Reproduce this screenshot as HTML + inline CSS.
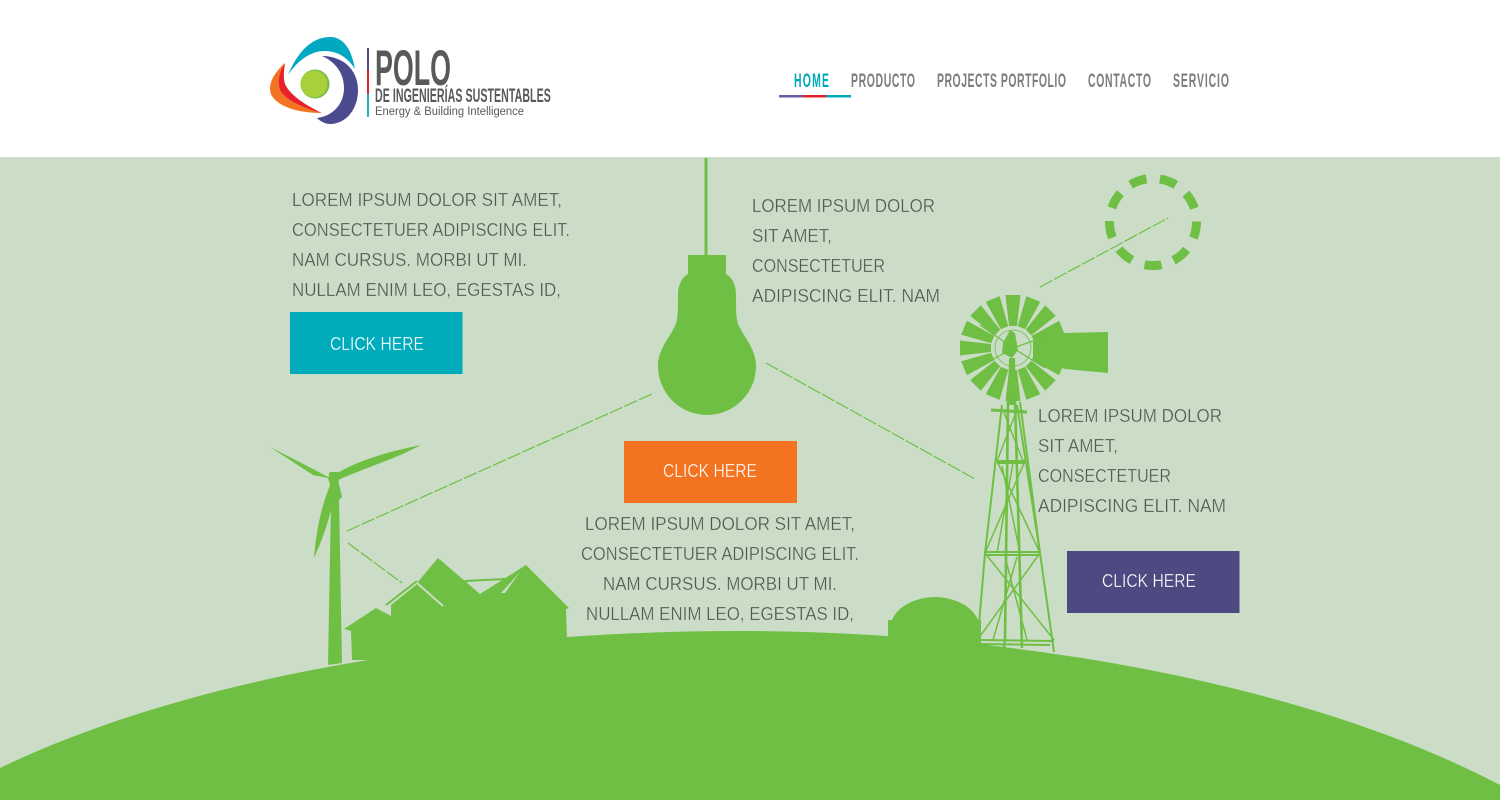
<!DOCTYPE html>
<html><head><meta charset="utf-8"><style>
html,body{margin:0;padding:0;background:#fff}
svg{display:block}
.t text{font-family:"Liberation Sans",sans-serif;font-size:18px;fill:#505854;stroke:#cbddc7;stroke-width:.3px}
.b text{font-family:"Liberation Sans",sans-serif;font-size:18px;fill:#fff;stroke-width:.3px}
.n text{font-family:"Liberation Sans",sans-serif;font-size:19px;font-weight:700;fill:#7d7d7d}
.l text{font-family:"Liberation Sans",sans-serif;font-weight:700;fill:#58595b}
</style></head><body>
<svg width="1500" height="800" viewBox="0 0 1500 800" xmlns="http://www.w3.org/2000/svg">
<rect width="1500" height="157" fill="#fff"/>
<rect y="157" width="1500" height="643" fill="#cbddc7"/>

<!-- logo -->
<path d="M288 75C296 55 310 37 330 37C345 37 352 52 355 69C348 58 338 51 325 51C311 51 298 60 288 75Z" fill="#00a9c0"/>
<path d="M322 56C345 56 359 72 358 92C357 111 345 124 330 124C325 124 320 121 317 118C333 116 344 104 344 88C344 74 336 62 322 56Z" fill="#4c4a8f"/>
<path d="M285 63C276 71 270 80 270 89C270 102 290 113 322 113C303 108 285 100 280 90C277 82 279 72 285 63Z" fill="#f47321"/>
<path d="M285 63C279 72 277 82 280 90C285 100 303 108 322 113C305 105 290 95 285 84C283 77 284 70 285 63Z" fill="#e8202a"/>
<circle cx="315" cy="84" r="14.500" fill="#6fbf44"/>
<circle cx="314" cy="84" r="13.500" fill="#a8d03a"/>
<rect x="367" y="48" width="2" height="22" fill="#4c4a8f"/>
<rect x="367" y="70" width="2" height="24" fill="#e8202a"/>
<rect x="367" y="94" width="2" height="23" fill="#1cb5bf"/>
<g class="l">
<text x="375" y="85" font-size="50" textLength="76" lengthAdjust="spacingAndGlyphs">POLO</text>
<text transform="translate(375 102) scale(.56 1)" font-size="19" textLength="314" lengthAdjust="spacing">DE INGENIERÍAS SUSTENTABLES</text>
<text x="375" y="115" font-size="11.500" textLength="149" lengthAdjust="spacingAndGlyphs" style="font-weight:400">Energy &amp; Building Intelligence</text>
</g>

<!-- nav -->
<g class="n">
<text transform="translate(794 87) scale(.55 1)" textLength="63.600" lengthAdjust="spacing" style="fill:#00a9b8">HOME</text>
<text transform="translate(851 87) scale(.55 1)" textLength="116.400" lengthAdjust="spacing">PRODUCTO</text>
<text transform="translate(937 87) scale(.55 1)" textLength="234.500" lengthAdjust="spacing">PROJECTS PORTFOLIO</text>
<text transform="translate(1088 87) scale(.55 1)" textLength="114.500" lengthAdjust="spacing">CONTACTO</text>
<text transform="translate(1173 87) scale(.55 1)" textLength="101.800" lengthAdjust="spacing">SERVICIO</text>
</g>
<rect x="779" y="95" width="24" height="2.500" fill="#6d5aa0"/>
<rect x="803" y="95" width="23" height="2.500" fill="#e8202a"/>
<rect x="826" y="95" width="25" height="2.500" fill="#00a9b8"/>

<!-- ground -->
<path d="M0 768C200 672 480 631 740 631C1000 631 1300 680 1500 785V800H0Z" fill="#6fbf44"/>

<!-- bulb -->
<rect x="704.500" y="158" width="3" height="98" fill="#6fbf44"/>
<rect x="688" y="255" width="38" height="21" fill="#6fbf44"/>
<path d="M688 274C682 277 678 285 678 295C678 310 678 320 675 326C668 340 658 350 658 366A49 49 0 0 0 756 366C756 350 745 338 739 326C736 320 736 310 736 295C736 285 732 277 726 274Z" fill="#6fbf44"/>

<!-- dashed connectors -->
<g stroke="#6fbf44" stroke-width="1.200" fill="none" stroke-dasharray="14 2">
<path d="M347 531L652 394"/>
<path d="M348 543L402 583"/>
<path d="M766 363L975 479"/>
<path d="M1040 287L1168 218"/>
</g>

<!-- dashed sun -->
<circle cx="1153" cy="222" r="43.500" fill="none" stroke="#6fbf44" stroke-width="9" stroke-dasharray="17 13.370" transform="rotate(78.800 1153 222)"/>

<!-- turbine -->
<path d="M328 665L331 502L339 498L342 663Z" fill="#6fbf44"/>
<path d="M270 447L313 469L328 477L339 472C360 460 390 451 421 445C395 459 365 468 338 480L342 497L339 500L332 505C328 525 320 545 314 558C316 530 322 505 330 485L328 478L313 475Z" fill="#6fbf44"/>
<rect x="329" y="472" width="10" height="10" rx="2" fill="#6fbf44"/>

<!-- houses -->
<path d="M344 629L376 608L391 616V605L416 585L417 583L438 558L480 594L526 565L569 608L566 609L567 640L566 660H352L351 631Z" fill="#6fbf44"/>
<path d="M417 583L443 606" stroke="#cbddc7" stroke-width="2" fill="none"/>
<path d="M386 605L417 581" stroke="#6fbf44" stroke-width="2" fill="none"/>
<path d="M465 581L505 579" stroke="#6fbf44" stroke-width="2" fill="none"/>
<path d="M501 593L520 572L505 593Z" fill="#cbddc7"/>
<path d="M566 637H600V660H566Z" fill="#6fbf44"/>

<!-- dome -->
<path d="M888 650V620H892C898 605 918 597 935 597C952 597 972 605 978 620H981V650Z" fill="#6fbf44"/>

<!-- windmill wheel -->
<g fill="#6fbf44">
<polygon points="1005.500,295 1020.500,295 1017,326 1009,326" transform="rotate(0 1013 348)"/>
<polygon points="1005.500,295 1020.500,295 1017,326 1009,326" transform="rotate(22.500 1013 348)"/>
<polygon points="1005.500,295 1020.500,295 1017,326 1009,326" transform="rotate(45 1013 348)"/>
<polygon points="1005.500,295 1020.500,295 1017,326 1009,326" transform="rotate(67.500 1013 348)"/>
<polygon points="1005.500,295 1020.500,295 1017,326 1009,326" transform="rotate(90 1013 348)"/>
<polygon points="1005.500,295 1020.500,295 1017,326 1009,326" transform="rotate(112.500 1013 348)"/>
<polygon points="1005.500,295 1020.500,295 1017,326 1009,326" transform="rotate(135 1013 348)"/>
<polygon points="1005.500,295 1020.500,295 1017,326 1009,326" transform="rotate(157.500 1013 348)"/>
<polygon points="1005.500,295 1020.500,295 1017,326 1009,326" transform="rotate(180 1013 348)"/>
<polygon points="1005.500,295 1020.500,295 1017,326 1009,326" transform="rotate(202.500 1013 348)"/>
<polygon points="1005.500,295 1020.500,295 1017,326 1009,326" transform="rotate(225 1013 348)"/>
<polygon points="1005.500,295 1020.500,295 1017,326 1009,326" transform="rotate(247.500 1013 348)"/>
<polygon points="1005.500,295 1020.500,295 1017,326 1009,326" transform="rotate(270 1013 348)"/>
<polygon points="1005.500,295 1020.500,295 1017,326 1009,326" transform="rotate(292.500 1013 348)"/>
<polygon points="1005.500,295 1020.500,295 1017,326 1009,326" transform="rotate(315 1013 348)"/>
<polygon points="1005.500,295 1020.500,295 1017,326 1009,326" transform="rotate(337.500 1013 348)"/>
<polygon points="1010,330 1003,343 1002,353 1012,358 1018,350 1015,333"/>
<polygon points="1033,342 1065,333 1108,332 1108,373 1065,369 1033,358"/>
<polygon points="1009,358 1015,358 1016,405 1008,405"/>
</g>
<circle cx="1013" cy="348" r="18" fill="none" stroke="#6fbf44" stroke-width=".8"/>
<g stroke="#6fbf44" stroke-width="1.200" fill="none">
<path d="M1013 348L980 325M1013 348L978 368M1013 348L1050 335M1013 348L1045 368"/>
</g>

<!-- tower -->
<g stroke="#6fbf44" fill="none" stroke-width="2">
<path d="M1002 405L985 553L977 648M1017 405L1040 553L1054 652"/>
<path d="M1008 400L1005 640L1004 648M1015 400L1022 648" stroke-width="2.600"/>
<path d="M1020 402L1040 553"/>
<path d="M991 410L1027 412" stroke-width="3"/>
<path d="M997 461L1025 461M997 463L1025 463M985 552L1040 552M985 555L1040 555M981 640L1054 641M981 644L1050 645"/>
<path d="M1003 410L1023 461M1017 410L997 461M997 461L1040 553M1025 461L985 553M1002 466L1020 553M1013 463L997 553" stroke-width="1.500"/>
<path d="M985 553L1054 640M1040 553L981 635M1005 557L1027 640M1017 557L993 640" stroke-width="1.500"/>
</g>

<!-- text blocks -->
<g class="t">
<text x="292" y="206" textLength="270" lengthAdjust="spacingAndGlyphs">LOREM IPSUM DOLOR SIT AMET,</text>
<text x="292" y="236" textLength="278" lengthAdjust="spacingAndGlyphs">CONSECTETUER ADIPISCING ELIT.</text>
<text x="292" y="266" textLength="235" lengthAdjust="spacingAndGlyphs">NAM CURSUS. MORBI UT MI.</text>
<text x="292" y="296" textLength="269" lengthAdjust="spacingAndGlyphs">NULLAM ENIM LEO, EGESTAS ID,</text>

<text x="752" y="212" textLength="183" lengthAdjust="spacingAndGlyphs">LOREM IPSUM DOLOR</text>
<text x="752" y="242" textLength="80" lengthAdjust="spacingAndGlyphs">SIT AMET,</text>
<text x="752" y="272" textLength="133" lengthAdjust="spacingAndGlyphs">CONSECTETUER</text>
<text x="752" y="302" textLength="188" lengthAdjust="spacingAndGlyphs">ADIPISCING ELIT. NAM</text>

<text x="1038" y="422" textLength="184" lengthAdjust="spacingAndGlyphs">LOREM IPSUM DOLOR</text>
<text x="1038" y="452" textLength="80" lengthAdjust="spacingAndGlyphs">SIT AMET,</text>
<text x="1038" y="482" textLength="133" lengthAdjust="spacingAndGlyphs">CONSECTETUER</text>
<text x="1038" y="512" textLength="188" lengthAdjust="spacingAndGlyphs">ADIPISCING ELIT. NAM</text>

<text x="585" y="530" textLength="270" lengthAdjust="spacingAndGlyphs">LOREM IPSUM DOLOR SIT AMET,</text>
<text x="581" y="560" textLength="278" lengthAdjust="spacingAndGlyphs">CONSECTETUER ADIPISCING ELIT.</text>
<text x="603" y="590" textLength="234" lengthAdjust="spacingAndGlyphs">NAM CURSUS. MORBI UT MI.</text>
<text x="586" y="620" textLength="268" lengthAdjust="spacingAndGlyphs">NULLAM ENIM LEO, EGESTAS ID,</text>
</g>

<!-- buttons -->
<rect x="290" y="312" width="172.500" height="62" fill="#00acbb"/>
<rect x="624" y="441" width="173" height="62" fill="#f47321"/>
<rect x="1067" y="551" width="172.500" height="62" fill="#4c4a80"/>
<g class="b">
<text x="330" y="350" textLength="94" lengthAdjust="spacingAndGlyphs" stroke="#00acbb">CLICK HERE</text>
<text x="663" y="477" textLength="94" lengthAdjust="spacingAndGlyphs" stroke="#f47321">CLICK HERE</text>
<text x="1102" y="587" textLength="94" lengthAdjust="spacingAndGlyphs" stroke="#4c4a80">CLICK HERE</text>
</g>
</svg>
</body></html>
